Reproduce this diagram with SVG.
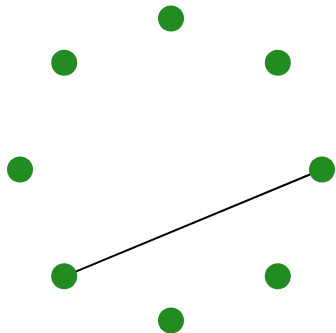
<svg xmlns="http://www.w3.org/2000/svg" width="336" height="333" viewBox="0 0 336 333">
<style>
.n{fill:#228B22}
.e{stroke:#000;stroke-width:2;fill:none}
</style>
<rect width="336" height="333" fill="#fff"/>
<g id="connectors">
<line class="e" x1="64.2" y1="276.3" x2="322" y2="169.5"/>
</g>
<g id="n0"><circle class="n" cx="171" cy="18.5" r="13"/></g>
<g id="n1"><circle class="n" cx="277.8" cy="62.7" r="13"/></g>
<g id="n2"><circle class="n" cx="322" cy="169.5" r="13"/></g>
<g id="n3"><circle class="n" cx="277.8" cy="276.3" r="13"/></g>
<g id="n4"><circle class="n" cx="171" cy="320.5" r="13"/></g>
<g id="n5"><circle class="n" cx="64.2" cy="276.3" r="13"/></g>
<g id="n6"><circle class="n" cx="20" cy="169.5" r="13"/></g>
<g id="n7"><circle class="n" cx="64.2" cy="62.7" r="13"/></g>
</svg>
